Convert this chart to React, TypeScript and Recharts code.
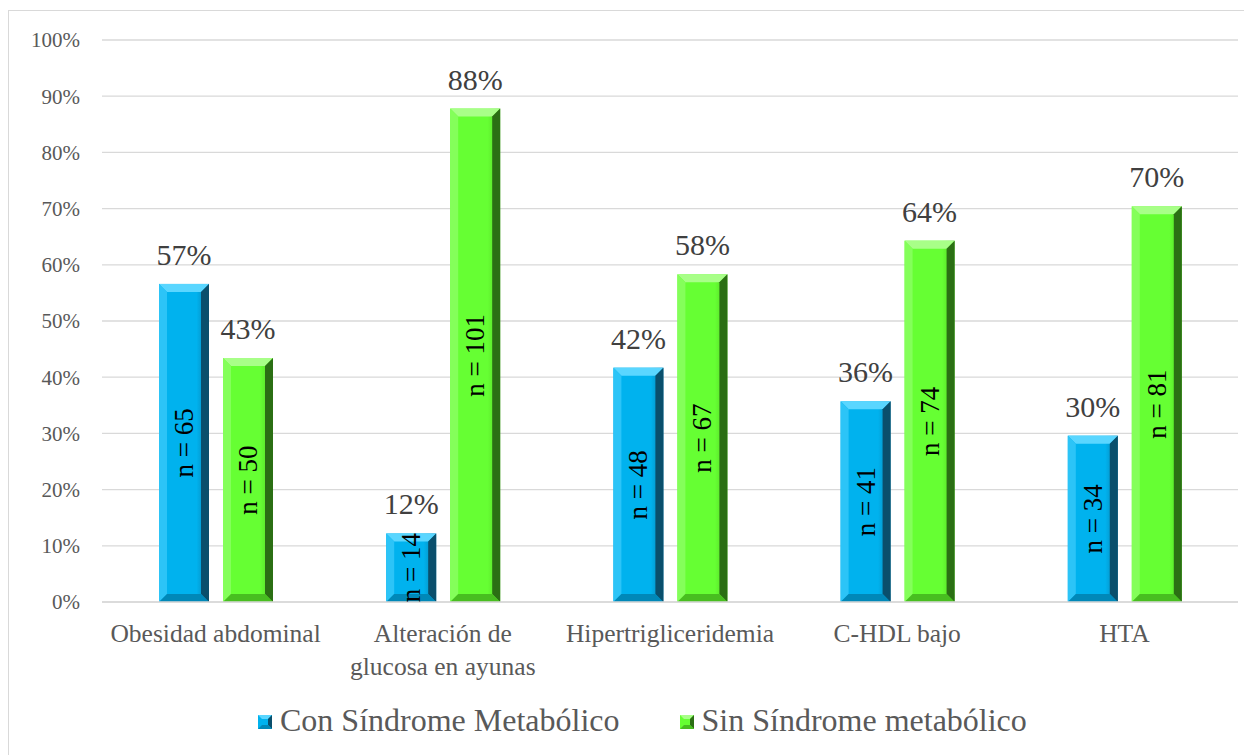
import { BarChart, Bar, XAxis, YAxis, CartesianGrid, Legend, LabelList } from "recharts";

const categories = ["Obesidad abdominal", "Alteración de\nglucosa en ayunas", "Hipertrigliceridemia", "C-HDL bajo", "HTA"];
const conPct = [56.6, 12.2, 41.7, 35.7, 29.6];
const sinPct = [43.4, 87.8, 58.3, 64.3, 70.4];
const nCon = [65, 14, 48, 41, 34];
const nSin = [50, 101, 67, 74, 81];
const yTicks = [0, 10, 20, 30, 40, 50, 60, 70, 80, 90, 100];

const FONT = '"Liberation Serif", "Times New Roman", serif';

const data = categories.map((cat, i) => ({
  cat,
  con: conPct[i],
  sin: sinPct[i],
  nCon: nCon[i],
  nSin: nSin[i],
}));

type Palette = { main: string; top: string; left: string; right: string; bottom: string; dark: string };
const BLUE: Palette = { main: "#00B2EE", top: "#5AD6FF", left: "#2CC4F7", right: "#0A4F6C", bottom: "#0088B8", dark: "#0a7fae" };
const GREEN: Palette = { main: "#66FF33", top: "#A8FF88", left: "#84FF5A", right: "#2B6F14", bottom: "#48BE20", dark: "#4fd022" };

const bevelShape = (pal: Palette, id: string) => (props: any) => {
  const { x, y, width: w, height: h } = props;
  if (!h || h <= 0) return null;
  const b = Math.min(8, h / 2, w / 2);
  const p = (pts: number[][]) => pts.map((q) => q.join(",")).join(" ");
  return (
    <g>
      <defs>
        <linearGradient id={id} x1="0" y1="0" x2="1" y2="0">
          <stop offset="0%" stopColor={pal.main} />
          <stop offset="75%" stopColor={pal.main} />
          <stop offset="100%" stopColor={pal.dark} />
        </linearGradient>
      </defs>
      <rect x={x} y={y} width={w} height={h} fill={`url(#${id})`} />
      <polygon points={p([[x, y], [x + w, y], [x + w - b, y + b], [x + b, y + b]])} fill={pal.top} />
      <polygon points={p([[x, y], [x + b, y + b], [x + b, y + h - b], [x, y + h]])} fill={pal.left} />
      <polygon points={p([[x + w, y], [x + w, y + h], [x + w - b, y + h - b], [x + w - b, y + b]])} fill={pal.right} />
      <polygon points={p([[x, y + h], [x + w, y + h], [x + w - b, y + h - b], [x + b, y + h - b]])} fill={pal.bottom} />
    </g>
  );
};

const pctLabel = (props: any) => {
  const { x, y, width, value } = props;
  return (
    <text x={x + width / 2} y={y - 19} textAnchor="middle" fill="#404040" fontSize={30} fontFamily={FONT}>
      {Math.round(value)}%
    </text>
  );
};

const nLabel = (props: any) => {
  const { x, y, width, height, value } = props;
  const cx = x + width / 2;
  const cy = y + height / 2;
  return (
    <text x={cx} y={cy} transform={`rotate(-90 ${cx} ${cy})`} textAnchor="middle" dominantBaseline="central"
      fill="#000" fontSize={27} fontFamily={FONT}>
      n = {value}
    </text>
  );
};

const XTick = ({ x, y, payload }: any) => {
  const lines = String(payload.value).split("\n");
  return (
    <text x={x} y={y} textAnchor="middle" fill="#595959" fontSize={25.5} fontFamily={FONT}>
      {lines.map((l, i) => (
        <tspan key={i} x={x} dy={i === 0 ? 40 : 33}>{l}</tspan>
      ))}
    </text>
  );
};

const Swatch = ({ pal }: { pal: Palette }) => (
  <svg width={14} height={14} style={{ marginRight: 8, marginBottom: 8 }}>
    <rect x={0} y={0} width={14} height={14} fill={pal.main} />
    <polygon points="0,0 14,0 10,4 4,4" fill={pal.top} />
    <polygon points="14,0 14,14 10,10 10,4" fill={pal.right} />
    <polygon points="0,14 14,14 10,10 4,10" fill={pal.bottom} />
  </svg>
);

const LegendContent = () => (
  <div style={{ height: 60, display: "flex", alignItems: "flex-end", paddingLeft: 249, fontFamily: FONT, fontSize: 32, color: "#595959", lineHeight: "34px" }}>
    <Swatch pal={BLUE} />
    <span style={{ marginRight: 60 }}>Con Síndrome Metabólico</span>
    <Swatch pal={GREEN} />
    <span>Sin Síndrome metabólico</span>
  </div>
);

export default function App() {
  return (
    <div style={{ width: 1240, height: 746, marginTop: 2, border: "1px solid #D9D9D9", background: "#fff" }}>
      <BarChart width={1240} height={746} data={data} barSize={50} barGap={14}
        margin={{ top: 29, right: 11, left: 0, bottom: 20 }}>
        <CartesianGrid vertical={false} stroke="#D9D9D9" strokeWidth={1.3} />
        <XAxis dataKey="cat" interval={0} height={75} tickLine={false} tickSize={0} tickMargin={0}
          axisLine={{ stroke: "#D9D9D9", strokeWidth: 1.3 }} tick={<XTick />} />
        <YAxis domain={[0, 100]} ticks={yTicks} width={93} axisLine={false} tickLine={false} tickSize={0} tickMargin={22}
          tickFormatter={(v) => `${v}%`} tick={{ fill: "#595959", fontSize: 21, fontFamily: FONT }} />
        <Legend verticalAlign="bottom" height={60} content={<LegendContent />} wrapperStyle={{ left: 0, width: 1240 }} />
        <Bar dataKey="con" name="Con Síndrome Metabólico" fill={BLUE.main} shape={bevelShape(BLUE, "gBlue")} isAnimationActive={false}>
          <LabelList dataKey="con" content={pctLabel} />
          <LabelList dataKey="nCon" content={nLabel} />
        </Bar>
        <Bar dataKey="sin" name="Sin Síndrome metabólico" fill={GREEN.main} shape={bevelShape(GREEN, "gGreen")} isAnimationActive={false}>
          <LabelList dataKey="sin" content={pctLabel} />
          <LabelList dataKey="nSin" content={nLabel} />
        </Bar>
      </BarChart>
    </div>
  );
}
